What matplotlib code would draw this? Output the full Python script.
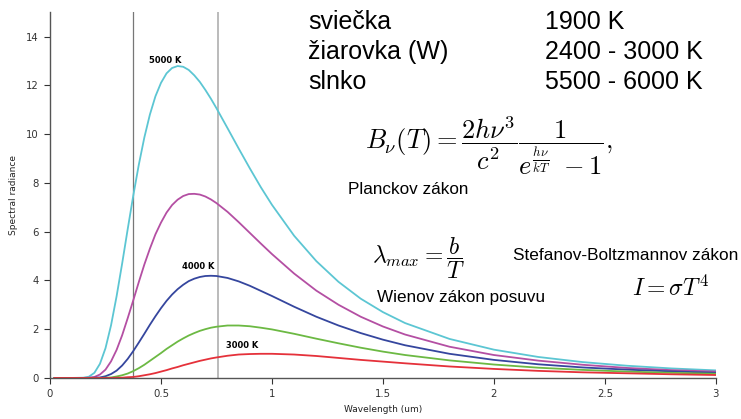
import numpy as np
import matplotlib
matplotlib.use('Agg')
import matplotlib.pyplot as plt

# wavelength grid (um) and spectral radiance
wavelength = [0.02, 0.1, 0.15, 0.175, 0.2, 0.225, 0.25, 0.275, 0.3, 0.325, 0.35, 0.375, 0.4, 0.425, 0.45,
              0.475, 0.5, 0.525, 0.55, 0.575, 0.6, 0.625, 0.65, 0.675, 0.7, 0.725, 0.75, 0.8, 0.85, 0.9,
              0.95, 1.0, 1.1, 1.2, 1.3, 1.4, 1.5, 1.6, 1.8, 2.0, 2.2, 2.4, 2.6, 2.8, 3.0]

rad_5000 = [0, 0, 0.01, 0.05, 0.21, 0.58, 1.22, 2.16, 3.35, 4.69, 6.10, 7.47, 8.74, 9.86, 10.80,
            11.55, 12.10, 12.49, 12.71, 12.79, 12.76, 12.63, 12.41, 12.14, 11.81, 11.45, 11.06, 10.24, 9.41, 8.60,
            7.82, 7.10, 5.83, 4.79, 3.94, 3.25, 2.70, 2.25, 1.60, 1.16, 0.86, 0.65, 0.50, 0.39, 0.31]
rad_4500 = [0, 0, 0, 0.01, 0.04, 0.14, 0.34, 0.68, 1.15, 1.75, 2.45, 3.18, 3.93, 4.65, 5.30,
            5.89, 6.37, 6.78, 7.09, 7.31, 7.46, 7.54, 7.55, 7.52, 7.44, 7.32, 7.17, 6.81, 6.39, 5.95,
            5.51, 5.08, 4.28, 3.58, 3.00, 2.51, 2.11, 1.78, 1.28, 0.94, 0.71, 0.54, 0.41, 0.32, 0.26]
rad_4000 = [0, 0, 0, 0, 0.01, 0.02, 0.07, 0.16, 0.30, 0.51, 0.78, 1.10, 1.45, 1.81, 2.18,
            2.53, 2.86, 3.16, 3.42, 3.64, 3.82, 3.97, 4.07, 4.14, 4.18, 4.19, 4.18, 4.10, 3.96, 3.78,
            3.57, 3.36, 2.92, 2.51, 2.15, 1.84, 1.57, 1.34, 0.99, 0.74, 0.56, 0.43, 0.34, 0.27, 0.21]
rad_3500 = [0, 0, 0, 0, 0, 0, 0.01, 0.02, 0.06, 0.11, 0.18, 0.28, 0.40, 0.54, 0.70,
            0.86, 1.02, 1.19, 1.34, 1.49, 1.62, 1.74, 1.84, 1.93, 2.00, 2.06, 2.10, 2.15, 2.15, 2.12,
            2.06, 1.99, 1.81, 1.61, 1.42, 1.24, 1.08, 0.94, 0.72, 0.55, 0.42, 0.33, 0.26, 0.21, 0.17]
rad_3000 = [0, 0, 0, 0, 0, 0, 0, 0, 0.01, 0.01, 0.03, 0.04, 0.07, 0.11, 0.15,
            0.20, 0.26, 0.32, 0.39, 0.45, 0.52, 0.58, 0.64, 0.70, 0.75, 0.80, 0.84, 0.91, 0.96, 0.98,
            0.99, 0.99, 0.96, 0.90, 0.82, 0.74, 0.67, 0.60, 0.47, 0.37, 0.29, 0.23, 0.19, 0.15, 0.12]

series = [rad_5000, rad_4500, rad_4000, rad_3500, rad_3000]
colors = ['#5cc6d3', '#b44fa3', '#35469e', '#6cb943', '#e5313a']

xticks = [0, 0.5, 1, 1.5, 2, 2.5, 3]
yticks = [0, 2, 4, 6, 8, 10, 12, 14]

plt.rcParams['mathtext.fontset'] = 'cm'

fig = plt.figure(figsize=(7.41, 4.19), dpi=100)
ax = fig.add_axes([0.0675, 0.098, 0.8985, 0.873])

# visible band limits
ax.axvline(0.375, color='#777777', lw=0.9, zorder=1)
ax.axvline(0.757, color='#bbbbbb', lw=1.4, zorder=1)

for vals, c in zip(series, colors):
    ax.plot(wavelength, vals, color=c, lw=1.3, zorder=2, solid_joinstyle='round')

ax.set_xlim(0, 3)
ax.set_ylim(0, 15)
ax.set_xticks(xticks)
ax.set_xticklabels(['0', '0.5', '1', '1.5', '2', '2.5', '3'])
ax.set_yticks(yticks)
for s in ['top', 'right']:
    ax.spines[s].set_visible(False)
for s in ['left', 'bottom']:
    ax.spines[s].set_color('#555555')
    ax.spines[s].set_linewidth(1.0)
ax.tick_params(labelsize=7.3, colors='#333333', length=4, width=0.8, pad=4)
ax.set_xlabel('Wavelength (um)', fontsize=6.5, color='#222222', labelpad=4)
ax.set_ylabel('Spectral radiance', fontsize=6.5, color='#222222', labelpad=6)

# temperature labels
ax.text(0.52, 13.0, '5000 K', fontsize=6, fontweight='bold', ha='center', va='center')
ax.text(0.667, 4.55, '4000 K', fontsize=6, fontweight='bold', ha='center', va='center')
ax.text(0.866, 1.35, '3000 K', fontsize=6, fontweight='bold', ha='center', va='center')

# annotation texts
sans = 'Liberation Sans'
rows = [('sviečka', '1900 K'), ('žiarovka (W)', '2400 - 3000 K'), ('slnko', '5500 - 6000 K')]
for i, (name, temp) in enumerate(rows):
    y = 419 - 22 - 30 * i
    fig.text(308 / 741, y / 419, name, fontsize=18, family=sans, va='center')
    fig.text(545 / 741, y / 419, temp, fontsize=18, family=sans, va='center')

fig.text(365 / 741, (419 - 146) / 419,
         r'$B_\nu(T) = \dfrac{2h\nu^3}{c^2}\dfrac{1}{e^{\frac{h\nu}{kT}}\ -1},$',
         fontsize=19, va='center')
fig.text(348 / 741, (419 - 189) / 419, 'Planckov zákon', fontsize=12.3, family=sans, va='center')

fig.text(372 / 741, (419 - 258) / 419, r'$\lambda_{max} = \dfrac{b}{T}$', fontsize=17, va='center')
fig.text(377 / 741, (419 - 297) / 419, 'Wienov zákon posuvu', fontsize=12.3, family=sans, va='center')
fig.text(513 / 741, (419 - 255) / 419, 'Stefanov-Boltzmannov zákon', fontsize=12.4, family=sans, va='center')
fig.text(632 / 741, (419 - 288) / 419, r'$I = \sigma T^4$', fontsize=17, va='center')

fig.savefig('out.png', dpi=100)
